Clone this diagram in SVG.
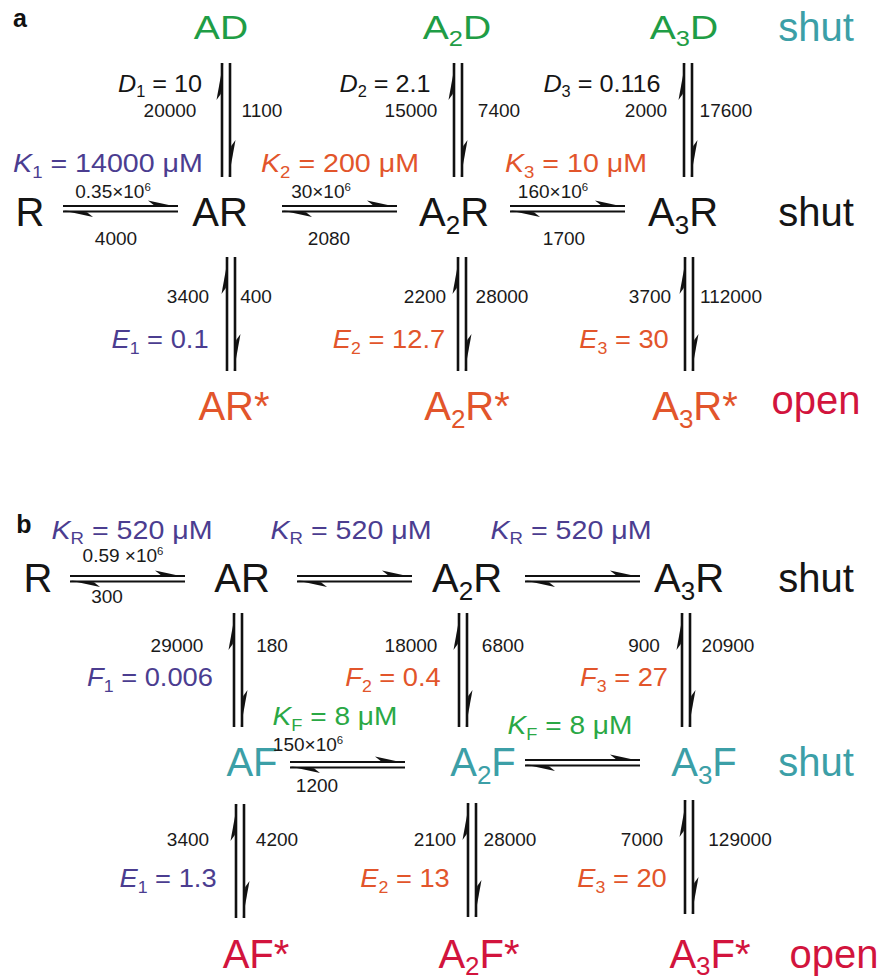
<svg xmlns="http://www.w3.org/2000/svg" xmlns:xlink="http://www.w3.org/1999/xlink" width="878" height="980" viewBox="0 0 878 980">
  <style>
    text { font-family: "Liberation Sans", Arial, Helvetica, sans-serif; text-anchor: middle; }
    .big { font-size: 40px; }
    .top { font-size: 34px; }
    .eq { font-size: 26px; }
    .dl { font-size: 24px; }
    .num { font-size: 19px; fill: #1a1a1a; }
    .hdr { font-size: 25px; font-weight: bold; fill: #111; }
    .it { font-style: italic; }
    .sb { font-size: 65%; }
    .k { fill: #151515; }
    .g { fill: #1f9d46; }
    .gl { fill: #2aa845; }
    .t { fill: #3c9fa7; }
    .p { fill: #4b3d90; }
    .o { fill: #e2552b; }
    .r { fill: #d2143d; }
    .ln { stroke: #111; fill: none; }
    .bb { fill: #111; stroke: none; }
  </style>
  <defs>
    <!-- vertical equilibrium harpoons: up on the left, down on the right -->
    <g id="vpair">
      <line class="ln" x1="0" y1="0" x2="0" y2="114" stroke-width="2.6"/>
      <line class="ln" x1="8" y1="0" x2="8" y2="114" stroke-width="2.6"/>
      <path class="bb" d="M1.2,0 L-5.5,37 L-1.2,31 Z"/>
      <path class="bb" d="M6.8,114 L13.5,77 L9.2,83 Z"/>
    </g>
    <!-- horizontal equilibrium harpoons: forward on top, backward below -->
    <g id="hpair">
      <line class="ln" x1="0" y1="0" x2="115" y2="0" stroke-width="2"/>
      <line class="ln" x1="0" y1="5.5" x2="115" y2="5.5" stroke-width="2"/>
      <path class="bb" d="M115,1 L85,-5.5 L91,-0.8 Z"/>
      <path class="bb" d="M0,4.5 L30,11 L24,6.3 Z"/>
    </g>
  </defs>

  <rect width="878" height="980" fill="#ffffff"/>

  <!-- panel letters -->
  <text class="hdr" transform="translate(20,27)">a</text>
  <text class="hdr" transform="translate(24,533)">b</text>

  <!-- connectors -->
  <g id="connectors">
    <!-- scheme a -->
    <use xlink:href="#vpair" transform="translate(222,63)"/>
    <use xlink:href="#vpair" transform="translate(454,63)"/>
    <use xlink:href="#vpair" transform="translate(684,63)"/>
    <use xlink:href="#vpair" transform="translate(227,257)"/>
    <use xlink:href="#vpair" transform="translate(458,257)"/>
    <use xlink:href="#vpair" transform="translate(685,257)"/>
    <use xlink:href="#hpair" transform="translate(63,206)"/>
    <use xlink:href="#hpair" transform="translate(282,206)"/>
    <use xlink:href="#hpair" transform="translate(510,206)"/>
    <!-- scheme b -->
    <use xlink:href="#vpair" transform="translate(234,613)"/>
    <use xlink:href="#vpair" transform="translate(459,613)"/>
    <use xlink:href="#vpair" transform="translate(682,613)"/>
    <use xlink:href="#vpair" transform="translate(236,804)"/>
    <use xlink:href="#vpair" transform="translate(468,803)"/>
    <use xlink:href="#vpair" transform="translate(685,800)"/>
    <use xlink:href="#hpair" transform="translate(70,576)"/>
    <use xlink:href="#hpair" transform="translate(297,576)"/>
    <use xlink:href="#hpair" transform="translate(525,576)"/>
    <use xlink:href="#hpair" transform="translate(290,762)"/>
    <use xlink:href="#hpair" transform="translate(525,760)"/>
  </g>

  <!-- scheme a states -->
  <g id="AD"><text class="top g" transform="translate(221,39) scale(1.15,1)">AD</text></g>
  <g id="A2D"><text class="top g" transform="translate(457,39) scale(1.15,1)">A<tspan class="sb" dy="7">2</tspan><tspan dy="-7">D</tspan></text></g>
  <g id="A3D"><text class="top g" transform="translate(684,39) scale(1.15,1)">A<tspan class="sb" dy="7">3</tspan><tspan dy="-7">D</tspan></text></g>
  <g id="R-a"><text class="big k" transform="translate(30,226)">R</text></g>
  <g id="AR-a"><text class="big k" transform="translate(220,226)">AR</text></g>
  <g id="A2R-a"><text class="big k" transform="translate(454,226)">A<tspan class="sb" dy="8">2</tspan><tspan dy="-8">R</tspan></text></g>
  <g id="A3R-a"><text class="big k" transform="translate(683,226)">A<tspan class="sb" dy="8">3</tspan><tspan dy="-8">R</tspan></text></g>
  <g id="ARs"><text class="big o" transform="translate(234,420)">AR*</text></g>
  <g id="A2Rs"><text class="big o" transform="translate(467,420)">A<tspan class="sb" dy="8">2</tspan><tspan dy="-8">R*</tspan></text></g>
  <g id="A3Rs"><text class="big o" transform="translate(695,420)">A<tspan class="sb" dy="8">3</tspan><tspan dy="-8">R*</tspan></text></g>

  <!-- scheme b states -->
  <g id="R-b"><text class="big k" transform="translate(38,592)">R</text></g>
  <g id="AR-b"><text class="big k" transform="translate(242,592)">AR</text></g>
  <g id="A2R-b"><text class="big k" transform="translate(467,592)">A<tspan class="sb" dy="8">2</tspan><tspan dy="-8">R</tspan></text></g>
  <g id="A3R-b"><text class="big k" transform="translate(689,592)">A<tspan class="sb" dy="8">3</tspan><tspan dy="-8">R</tspan></text></g>
  <g id="AF"><text class="big t" transform="translate(252,776)">AF</text></g>
  <g id="A2F"><text class="big t" transform="translate(483,776)">A<tspan class="sb" dy="8">2</tspan><tspan dy="-8">F</tspan></text></g>
  <g id="A3F"><text class="big t" transform="translate(704,776)">A<tspan class="sb" dy="8">3</tspan><tspan dy="-8">F</tspan></text></g>
  <g id="AFs"><text class="big r" transform="translate(256,968)">AF*</text></g>
  <g id="A2Fs"><text class="big r" transform="translate(479,968)">A<tspan class="sb" dy="7">2</tspan><tspan dy="-7">F*</tspan></text></g>
  <g id="A3Fs"><text class="big r" transform="translate(710,968)">A<tspan class="sb" dy="7">3</tspan><tspan dy="-7">F*</tspan></text></g>

  <!-- row conductance notes -->
  <g id="notes">
    <text class="big t" transform="translate(816,41)">shut</text>
    <text class="big k" transform="translate(816,226)">shut</text>
    <text class="big r" transform="translate(816,414)">open</text>
    <text class="big k" transform="translate(816,592)">shut</text>
    <text class="big t" transform="translate(816,776)">shut</text>
    <text class="big r" transform="translate(834,968)">open</text>
  </g>

  <!-- equilibrium constants -->
  <g id="constants">
    <text class="dl k" transform="translate(160,92) scale(1.05,1)"><tspan class="it">D</tspan><tspan class="sb" dy="5">1</tspan><tspan dy="-5"> = 10</tspan></text>
    <text class="dl k" transform="translate(385,92) scale(1.05,1)"><tspan class="it">D</tspan><tspan class="sb" dy="5">2</tspan><tspan dy="-5"> = 2.1</tspan></text>
    <text class="dl k" transform="translate(602,92) scale(1.05,1)"><tspan class="it">D</tspan><tspan class="sb" dy="5">3</tspan><tspan dy="-5"> = 0.116</tspan></text>

    <text class="eq p" transform="translate(108,172) scale(1.1,1)"><tspan class="it">K</tspan><tspan class="sb" dy="6">1</tspan><tspan dy="-6"> = 14000 μM</tspan></text>
    <text class="eq o" transform="translate(340,172) scale(1.1,1)"><tspan class="it">K</tspan><tspan class="sb" dy="6">2</tspan><tspan dy="-6"> = 200 μM</tspan></text>
    <text class="eq o" transform="translate(576,172) scale(1.1,1)"><tspan class="it">K</tspan><tspan class="sb" dy="6">3</tspan><tspan dy="-6"> = 10 μM</tspan></text>

    <text class="eq p" transform="translate(160,348) scale(1.05,1)"><tspan class="it">E</tspan><tspan class="sb" dy="6">1</tspan><tspan dy="-6"> = 0.1</tspan></text>
    <text class="eq o" transform="translate(389,348) scale(1.05,1)"><tspan class="it">E</tspan><tspan class="sb" dy="6">2</tspan><tspan dy="-6"> = 12.7</tspan></text>
    <text class="eq o" transform="translate(624,348) scale(1.05,1)"><tspan class="it">E</tspan><tspan class="sb" dy="6">3</tspan><tspan dy="-6"> = 30</tspan></text>

    <text class="eq p" transform="translate(132,539) scale(1.1,1)"><tspan class="it">K</tspan><tspan class="sb" dy="5">R</tspan><tspan dy="-5"> = 520 μM</tspan></text>
    <text class="eq p" transform="translate(351,539) scale(1.1,1)"><tspan class="it">K</tspan><tspan class="sb" dy="5">R</tspan><tspan dy="-5"> = 520 μM</tspan></text>
    <text class="eq p" transform="translate(571,539) scale(1.1,1)"><tspan class="it">K</tspan><tspan class="sb" dy="5">R</tspan><tspan dy="-5"> = 520 μM</tspan></text>

    <text class="eq p" transform="translate(150,686) scale(1.05,1)"><tspan class="it">F</tspan><tspan class="sb" dy="6">1</tspan><tspan dy="-6"> = 0.006</tspan></text>
    <text class="eq o" transform="translate(393,686) scale(1.05,1)"><tspan class="it">F</tspan><tspan class="sb" dy="6">2</tspan><tspan dy="-6"> = 0.4</tspan></text>
    <text class="eq o" transform="translate(624,686) scale(1.05,1)"><tspan class="it">F</tspan><tspan class="sb" dy="6">3</tspan><tspan dy="-6"> = 27</tspan></text>

    <text class="eq gl" transform="translate(335,725) scale(1.08,1)"><tspan class="it">K</tspan><tspan class="sb" dy="6">F</tspan><tspan dy="-6"> = 8 μM</tspan></text>
    <text class="eq gl" transform="translate(570,734) scale(1.08,1)"><tspan class="it">K</tspan><tspan class="sb" dy="6">F</tspan><tspan dy="-6"> = 8 μM</tspan></text>

    <text class="eq p" transform="translate(168,887) scale(1.05,1)"><tspan class="it">E</tspan><tspan class="sb" dy="6">1</tspan><tspan dy="-6"> = 1.3</tspan></text>
    <text class="eq o" transform="translate(405,887) scale(1.05,1)"><tspan class="it">E</tspan><tspan class="sb" dy="6">2</tspan><tspan dy="-6"> = 13</tspan></text>
    <text class="eq o" transform="translate(622,887) scale(1.05,1)"><tspan class="it">E</tspan><tspan class="sb" dy="6">3</tspan><tspan dy="-6"> = 20</tspan></text>
  </g>

  <!-- rate constants -->
  <g id="rates">
    <!-- scheme a -->
    <text class="num" transform="translate(170,117)">20000</text>
    <text class="num" transform="translate(262,117)">1100</text>
    <text class="num" transform="translate(411,117)">15000</text>
    <text class="num" transform="translate(499,117)">7400</text>
    <text class="num" transform="translate(646,117)">2000</text>
    <text class="num" transform="translate(726,117)">17600</text>
    <text class="num" transform="translate(113,198)">0.35×10<tspan font-size="60%" dy="-7">6</tspan></text>
    <text class="num" transform="translate(116,245)">4000</text>
    <text class="num" transform="translate(321,198)">30×10<tspan font-size="60%" dy="-7">6</tspan></text>
    <text class="num" transform="translate(329,245)">2080</text>
    <text class="num" transform="translate(553,198)">160×10<tspan font-size="60%" dy="-7">6</tspan></text>
    <text class="num" transform="translate(564,245)">1700</text>
    <text class="num" transform="translate(188,303)">3400</text>
    <text class="num" transform="translate(256,303)">400</text>
    <text class="num" transform="translate(425,303)">2200</text>
    <text class="num" transform="translate(502,303)">28000</text>
    <text class="num" transform="translate(650,303)">3700</text>
    <text class="num" transform="translate(731,303)">112000</text>
    <!-- scheme b -->
    <text class="num" transform="translate(123,562)">0.59 ×10<tspan font-size="60%" dy="-7">6</tspan></text>
    <text class="num" transform="translate(107,603)">300</text>
    <text class="num" transform="translate(177,652)">29000</text>
    <text class="num" transform="translate(272,652)">180</text>
    <text class="num" transform="translate(411,652)">18000</text>
    <text class="num" transform="translate(503,652)">6800</text>
    <text class="num" transform="translate(644,652)">900</text>
    <text class="num" transform="translate(728,652)">20900</text>
    <text class="num" transform="translate(308,751)">150×10<tspan font-size="60%" dy="-7">6</tspan></text>
    <text class="num" transform="translate(317,792)">1200</text>
    <text class="num" transform="translate(188,846)">3400</text>
    <text class="num" transform="translate(277,846)">4200</text>
    <text class="num" transform="translate(435,846)">2100</text>
    <text class="num" transform="translate(510,846)">28000</text>
    <text class="num" transform="translate(642,846)">7000</text>
    <text class="num" transform="translate(740,846)">129000</text>
  </g>
</svg>
